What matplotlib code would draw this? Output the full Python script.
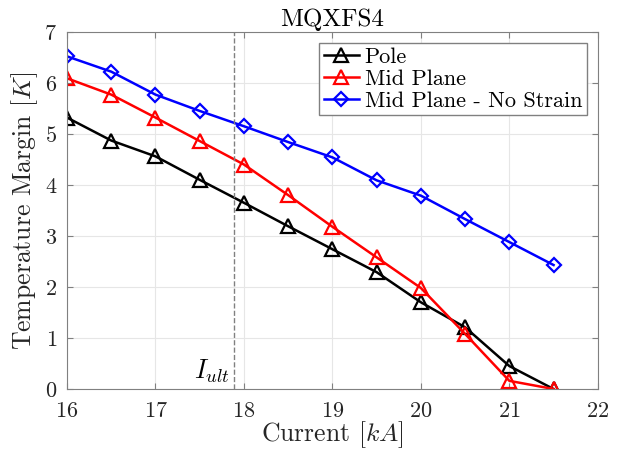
import matplotlib
matplotlib.use("Agg")
from matplotlib import pyplot as plt

plt.rcParams['font.family'] = ['cmr10', 'DejaVu Serif']
plt.rcParams['mathtext.fontset'] = 'cm'
plt.rcParams['axes.formatter.use_mathtext'] = True

current = [16, 16.5, 17, 17.5, 18, 18.5, 19, 19.5, 20, 20.5, 21, 21.5]
pole = [5.32, 4.87, 4.56, 4.10, 3.65, 3.19, 2.74, 2.29, 1.70, 1.21, 0.45, 0.0]
mid_plane = [6.09, 5.77, 5.32, 4.86, 4.40, 3.80, 3.18, 2.58, 1.98, 1.08, 0.16, 0.0]
mid_no_strain = [6.52, 6.22, 5.77, 5.45, 5.15, 4.84, 4.54, 4.09, 3.79, 3.33, 2.88, 2.43]
i_ult = 17.89

fig = plt.figure(figsize=(6.26, 4.55), dpi=100)
ax = fig.add_axes([0.107, 0.145, 0.848, 0.785])

ax.plot(current, pole, 'k-^', lw=1.8, ms=10, mfc='none', mew=1.6, label='Pole')
ax.plot(current, mid_plane, '-^', color='red', lw=1.8, ms=10, mfc='none', mew=1.6, label='Mid Plane')
ax.plot(current, mid_no_strain, '-D', color='blue', lw=1.8, ms=7.5, mfc='none', mew=1.6,
        label='Mid Plane - No Strain')
ax.axvline(i_ult, color='gray', ls='--', lw=1)
ax.text(i_ult - 0.05, 0.08, r'$I_{ult}$', ha='right', va='bottom', fontsize=19)

ax.set_xlim(16, 22)
ax.set_ylim(0, 7)
ax.set_xticks(range(16, 23))
ax.set_yticks(range(0, 8))
ax.grid(True, color='#e6e6e6', lw=0.8)
ax.set_axisbelow(True)
for s in ax.spines.values():
    s.set_color('#808080')
ax.tick_params(direction='in', length=4, color='#808080', labelsize=16, labelcolor='#262626',
               top=True, right=True)
ax.tick_params(axis='x', pad=9)
ax.tick_params(axis='y', pad=7)

ax.set_title('MQXFS4', fontsize=18, pad=4)
ax.set_xlabel(r'Current $[kA]$', fontsize=18.5, color='#262626', labelpad=-1)
ax.set_ylabel(r'Temperature Margin $[K]$', fontsize=18.5, color='#262626', labelpad=3)

leg = ax.legend(loc='upper right', fontsize=16, handlelength=1.6, handletextpad=0.25,
                borderpad=0.2, labelspacing=0.1, fancybox=False, framealpha=1,
                borderaxespad=0.5)
leg.get_frame().set_edgecolor('#808080')
leg.get_frame().set_linewidth(1)

fig.savefig('out.png', dpi=100)
